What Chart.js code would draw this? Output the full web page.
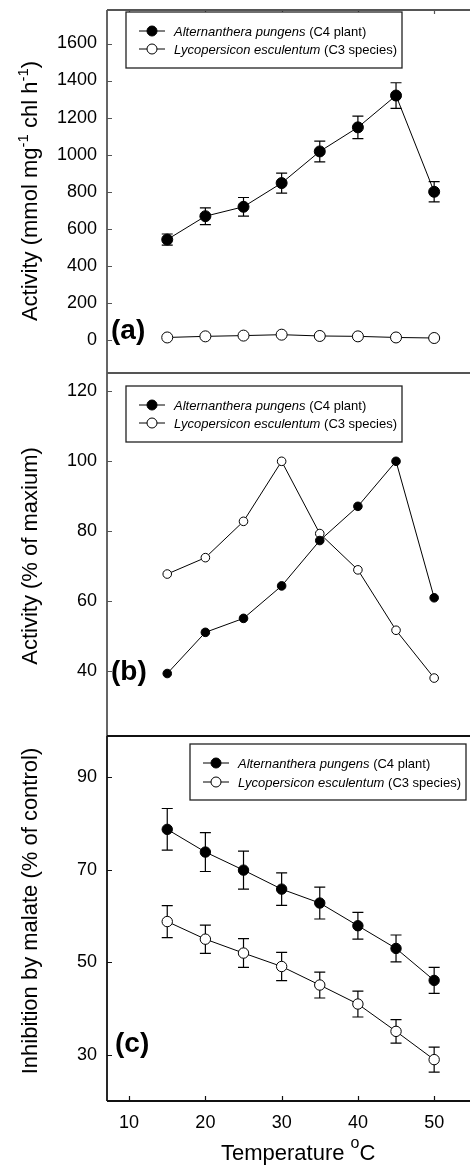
<!DOCTYPE html>
<html><head><meta charset="utf-8">
<script src="https://cdn.jsdelivr.net/npm/chart.js@4.4.0/dist/chart.umd.min.js"></script>
<style>
html,body{margin:0;padding:0;background:#fff;}
#wrap{position:relative;width:470px;height:1165px;overflow:hidden;background:#fff;}
canvas{position:absolute;left:0;top:0;}
</style></head><body>
<div id="wrap">
<canvas id="ca" width="470" height="1165"></canvas>
<canvas id="cb" width="470" height="1165"></canvas>
<canvas id="cc" width="470" height="1165"></canvas>
</div>
<script>
// ---- data ----
const temperatures = [15, 20, 25, 30, 35, 40, 45, 50];
const activityC4 = [541, 667, 718, 846, 1017, 1147, 1319, 799];
const activityC4Err = [30, 45, 50, 54, 56, 61, 69, 55];
const activityC3 = [12, 18, 22, 27, 20, 18, 12, 9];
const relativeC4 = [39.2, 51.0, 55.0, 64.3, 77.3, 87.1, 100, 60.9];
const relativeC3 = [67.7, 72.4, 82.8, 100, 79.3, 68.9, 51.6, 37.9];
const inhibitionC4 = [78.7, 73.8, 69.9, 65.8, 62.8, 57.9, 53.0, 46.1];
const inhibitionC4Err = [4.5, 4.2, 4.1, 3.5, 3.45, 2.9, 2.9, 2.8];
const inhibitionC3 = [58.8, 55.0, 52.0, 49.1, 45.1, 41.0, 35.1, 29.0];
const inhibitionC3Err = [3.45, 3.05, 3.1, 3.05, 2.8, 2.8, 2.55, 2.7];
const xTicks = [10, 20, 30, 40, 50];
const yTicksA = [0, 200, 400, 600, 800, 1000, 1200, 1400, 1600];
const yTicksB = [40, 60, 80, 100, 120];
const yTicksC = [30, 50, 70, 90];
const seriesNames = [
  ['Alternanthera pungens', ' (C4 plant)'],
  ['Lycopersicon esculentum', ' (C3 species)']
];

const FONT = "'Liberation Sans', Arial, Helvetica, sans-serif";

function pts(vals) { return temperatures.map((t, i) => ({x: t, y: vals[i]})); }

function setFont(ctx, size, bold, italic) {
  ctx.font = (italic ? 'italic ' : '') + (bold ? 'bold ' : '') + size + 'px ' + FONT;
}
function richWidth(ctx, pieces) {
  let w = 0;
  pieces.forEach(p => { setFont(ctx, p.size, p.bold, p.italic); w += ctx.measureText(p.t).width; });
  return w;
}
function drawRich(ctx, pieces, x, y, center) {
  let cx = center ? x - richWidth(ctx, pieces) / 2 : x;
  ctx.textBaseline = 'alphabetic';
  ctx.textAlign = 'left';
  pieces.forEach(p => {
    setFont(ctx, p.size, p.bold, p.italic);
    ctx.fillText(p.t, cx, y - (p.rise || 0));
    cx += ctx.measureText(p.t).width;
  });
}

function drawLegend(ctx, box) {
  ctx.save();
  ctx.fillStyle = '#fff';
  ctx.fillRect(box.x, box.y, box.w, box.h);
  ctx.strokeStyle = '#222';
  ctx.lineWidth = 1.3;
  ctx.strokeRect(box.x, box.y, box.w, box.h);
  box.rows.forEach((ry, i) => {
    ctx.strokeStyle = '#000';
    ctx.lineWidth = 1;
    ctx.beginPath();
    ctx.moveTo(box.x + 13, ry); ctx.lineTo(box.x + 39, ry);
    ctx.stroke();
    ctx.beginPath();
    ctx.arc(box.x + 26, ry, 5, 0, Math.PI * 2);
    ctx.fillStyle = i === 0 ? '#000' : '#fff';
    ctx.fill();
    ctx.stroke();
    ctx.fillStyle = '#000';
    drawRich(ctx, [
      {t: seriesNames[i][0], size: 13, italic: true},
      {t: seriesNames[i][1], size: 13}
    ], box.x + 48, ry + 4.5, false);
  });
  ctx.restore();
}

const errorBars = {
  id: 'errorBars',
  beforeDatasetsDraw(chart) {
    const {ctx, scales: {x, y}} = chart;
    ctx.save();
    ctx.strokeStyle = '#000';
    ctx.lineWidth = 1.2;
    chart.data.datasets.forEach(ds => {
      if (!ds.errors) return;
      ds.data.forEach((p, i) => {
        const e = ds.errors[i];
        const px = x.getPixelForValue(p.x);
        const y1 = y.getPixelForValue(p.y + e);
        const y2 = y.getPixelForValue(p.y - e);
        ctx.beginPath();
        ctx.moveTo(px, y1); ctx.lineTo(px, y2);
        ctx.moveTo(px - 5.5, y1); ctx.lineTo(px + 5.5, y1);
        ctx.moveTo(px - 5.5, y2); ctx.lineTo(px + 5.5, y2);
        ctx.stroke();
      });
    });
    ctx.restore();
  }
};

function framePlugin(cfg) {
  return {
    id: 'frame',
    afterDraw(chart) {
      const {ctx, chartArea: a, scales: {x, y}} = chart;
      ctx.save();
      ctx.strokeStyle = cfg.axisColor;
      ctx.lineWidth = 1.8;
      ctx.beginPath();
      ctx.moveTo(a.left, a.top); ctx.lineTo(a.right + 2, a.top);
      ctx.moveTo(a.left, a.top); ctx.lineTo(a.left, a.bottom);
      if (cfg.bottomLine) { ctx.moveTo(a.left, a.bottom); ctx.lineTo(a.right + 2, a.bottom); }
      ctx.stroke();
      ctx.lineWidth = 1.2;
      ctx.beginPath();
      cfg.yTicks.forEach(v => {
        const py = Math.round(y.getPixelForValue(v)) + 0.5;
        ctx.moveTo(a.left, py); ctx.lineTo(a.left + 5, py);
      });
      if (cfg.topTicks) xTicks.forEach(v => {
        const px = Math.round(x.getPixelForValue(v)) + 0.5;
        ctx.moveTo(px, a.top); ctx.lineTo(px, a.top + 4);
      });
      if (cfg.bottomTicks) xTicks.forEach(v => {
        const px = Math.round(x.getPixelForValue(v)) + 0.5;
        ctx.moveTo(px, a.bottom); ctx.lineTo(px, a.bottom - 5);
      });
      ctx.stroke();

      ctx.fillStyle = '#000';
      // y title (rotated)
      ctx.save();
      ctx.translate(37, cfg.titleY);
      ctx.rotate(-Math.PI / 2);
      drawRich(ctx, cfg.title, 0, 0, true);
      ctx.restore();
      // panel label
      drawRich(ctx, [{t: cfg.label, size: 28, bold: true}], cfg.labelX, cfg.labelY, false);
      // x title
      if (cfg.xTitle) {
        drawRich(ctx, [
          {t: 'Temperature ', size: 22},
          {t: 'o', size: 16, rise: 12},
          {t: 'C', size: 22}
        ], 221, 1160, false);
      }
      drawLegend(ctx, cfg.legend);
      ctx.restore();
    }
  };
}

function noPad(s) { s.paddingTop = 0; s.paddingBottom = 0; s.paddingLeft = 0; s.paddingRight = 0; }

function makePanel(id, cfg) {
  return new Chart(document.getElementById(id), {
    type: 'line',
    data: {datasets: cfg.datasets.map((d, i) => ({
      data: pts(d.values),
      errors: d.errors,
      showLine: true,
      borderColor: '#000',
      borderWidth: 1,
      pointRadius: cfg.radius,
      pointBorderWidth: 1,
      pointBorderColor: '#000',
      pointBackgroundColor: i === 0 ? '#000' : '#fff',
      tension: 0
    }))},
    options: {
      responsive: false,
      animation: false,
      devicePixelRatio: 1,
      layout: {autoPadding: false, padding: {top: cfg.top, bottom: cfg.bottom, left: 0, right: 0}},
      plugins: {legend: {display: false}, tooltip: {enabled: false}},
      scales: {
        x: {
          type: 'linear', min: 7.1, max: 54.7,
          display: cfg.showX,
          afterBuildTicks: s => { s.ticks = xTicks.map(v => ({value: v})); },
          afterFit: s => { if (cfg.showX) s.height = 64; else s.height = 0; noPad(s); },
          grid: {display: false, drawTicks: false},
          border: {display: false},
          ticks: {color: '#000', padding: 11, font: {family: FONT, size: 18}, maxRotation: 0,
                  callback: v => String(v)}
        },
        y: {
          type: 'linear', min: cfg.yMin, max: cfg.yMax,
          afterBuildTicks: s => { s.ticks = cfg.yTicks.map(v => ({value: v})); },
          afterFit: s => { s.width = 107; noPad(s); },
          grid: {display: false, drawTicks: false},
          border: {display: false},
          ticks: {color: '#000', padding: 10, font: {family: FONT, size: 18},
                  callback: v => String(v)}
        }
      }
    },
    plugins: [errorBars, framePlugin(cfg)]
  });
}

makePanel('ca', {
  top: 10, bottom: 1165 - 373, showX: false, yMin: -180, yMax: 1781, yTicks: yTicksA,
  radius: 5.5, axisColor: '#555', topTicks: true, bottomTicks: false, bottomLine: false,
  datasets: [{values: activityC4, errors: activityC4Err}, {values: activityC3}],
  title: [
    {t: 'Activity (mmol mg', size: 22}, {t: '-1', size: 15, rise: 9},
    {t: ' chl h', size: 22}, {t: '-1', size: 15, rise: 9}, {t: ')', size: 22}
  ],
  titleY: 191,
  label: '(a)', labelX: 111, labelY: 339,
  legend: {x: 126, y: 12, w: 276, h: 56, rows: [31, 49]}
});

makePanel('cb', {
  top: 373, bottom: 1165 - 736, showX: false, yMin: 21.3, yMax: 125.3, yTicks: yTicksB,
  radius: 4.3, axisColor: '#555', topTicks: false, bottomTicks: false, bottomLine: false,
  datasets: [{values: relativeC4}, {values: relativeC3}],
  title: [{t: 'Activity (% of maxium)', size: 22}],
  titleY: 556,
  label: '(b)', labelX: 111, labelY: 680,
  legend: {x: 126, y: 386, w: 276, h: 56, rows: [405, 423]}
});

makePanel('cc', {
  top: 736, bottom: 0, showX: true, yMin: 20.07, yMax: 98.85, yTicks: yTicksC,
  radius: 5.2, axisColor: '#111', topTicks: false, bottomTicks: true, bottomLine: true,
  datasets: [{values: inhibitionC4, errors: inhibitionC4Err}, {values: inhibitionC3, errors: inhibitionC3Err}],
  title: [{t: 'Inhibition by malate (% of control)', size: 22}],
  titleY: 911,
  label: '(c)', labelX: 115, labelY: 1052, xTitle: true,
  legend: {x: 190, y: 744, w: 276, h: 56, rows: [763, 782]}
});
</script>
</body></html>
